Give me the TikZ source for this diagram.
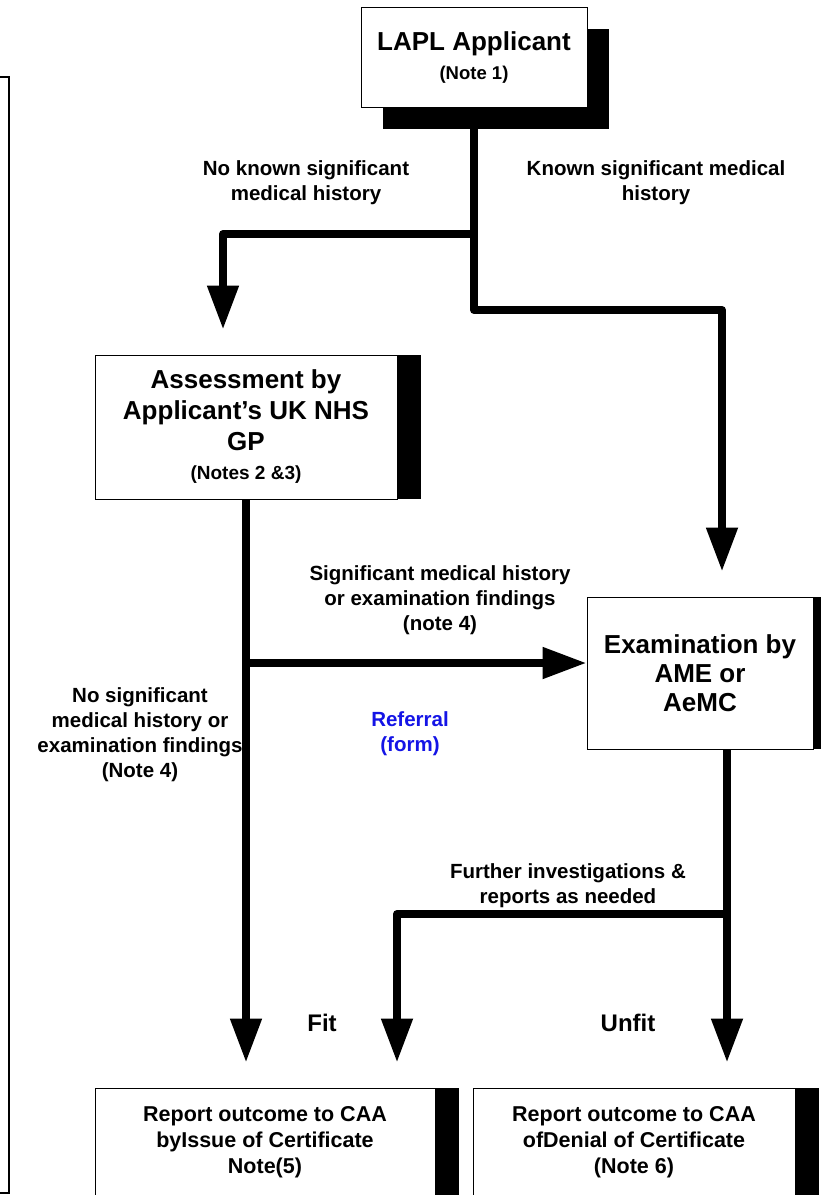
\documentclass[tikz,border=0pt]{standalone}
\usepackage{fontspec}
\setmainfont{Liberation Sans}
\usetikzlibrary{arrows.meta,shadows}
\definecolor{bleuref}{RGB}{20,20,230}

\begin{document}
\begin{tikzpicture}[x=1pt,y=-1pt]
\tikzset{boite/.style={draw, line width=1pt, fill=white, align=center, inner sep=0pt,
    font=\bfseries\fontsize{26}{31}\selectfont},
  ombre/.style={drop shadow={shadow xshift=24pt, shadow yshift=0pt, fill=black, opacity=1}},
  fleche/.style={line width=8pt, line join=round, -{Triangle[width=30pt,length=44pt]}},
  etiq/.style={align=center, font=\bfseries\fontsize{20.5}{25}\selectfont}}
\useasboundingbox (0,0) rectangle (821,1195);
\draw[line width=2.5pt] (-20,77) rectangle (9,1193);
\node[boite, minimum width=226pt, minimum height=100pt,
  drop shadow={shadow xshift=22pt, shadow yshift=-22pt, fill=black, opacity=1}] (App) at (474,57)
  {LAPL Applicant\\[-2pt]{\fontsize{18.5}{22}\selectfont (Note 1)}};
\node[boite, ombre, minimum width=302pt, minimum height=144pt] (GP) at (246,427)
  {Assessment by\\Applicant's UK NHS\\GP\\[-2pt]{\fontsize{19}{23}\selectfont (Notes 2 \&3)}};
\node[boite, ombre, minimum width=226pt, minimum height=152pt,
  font=\bfseries\fontsize{26}{29}\selectfont] (Exam) at (700,673)
  {Examination by\\AME or\\AeMC};
\node[boite, ombre, minimum width=340pt, minimum height=108pt,
  font=\bfseries\fontsize{21.5}{26}\selectfont] (Fit) at (265,1142)
  {Report outcome to CAA\\byIssue of Certificate\\Note(5)};
\node[boite, ombre, minimum width=322pt, minimum height=108pt,
  font=\bfseries\fontsize{21.5}{26}\selectfont] (Unfit) at (634,1142)
  {Report outcome to CAA\\ofDenial of Certificate\\(Note 6)};
% junctions
\coordinate (J1) at (App.south |- 0,234);
\coordinate (J2) at (App.south |- 0,310);
\coordinate (J3) at (GP.south |- 0,663);
\coordinate (E1) at ([xshift=27pt]Exam.south);
\coordinate (J4) at (E1 |- 0,914);
\draw[fleche, shorten >=25pt] (App.south) -- (J2) -| ([xshift=22pt]Exam.north);
\draw[fleche, shorten >=25pt] (J1) -| ([xshift=-23pt]GP.north);
\draw[fleche, shorten >=25pt] (GP.south) -- (GP.south |- Fit.north);
\draw[fleche] (J3) -- (J3 -| Exam.west);
\draw[fleche, shorten >=25pt] (E1) -- (E1 |- Unfit.north);
\draw[fleche, shorten >=25pt] (J4) -| ([xshift=132pt]Fit.north);
% labels
\node[etiq] (NoKnown) at (306,183) {No known significant\\medical history};
\node[etiq] (Known) at (656,183) {Known significant medical\\history};
\node[etiq] (SigHist) at (440,600) {Significant medical history\\or examination findings\\(note 4)};
\node[etiq] (NoSig) at (140,735) {No significant\\medical history or\\examination findings\\(Note 4)};
\node[etiq, text=bleuref] (Referral) at (410,734) {Referral\\(form)};
\node[etiq] (Further) at (568,886) {Further investigations \&\\reports as needed};
\node[etiq, font=\bfseries\fontsize{24}{28}\selectfont] (FitLbl) at (322,1023) {Fit};
\node[etiq, font=\bfseries\fontsize{24}{28}\selectfont] (UnfitLbl) at (628,1023) {Unfit};
\end{tikzpicture}
\end{document}
